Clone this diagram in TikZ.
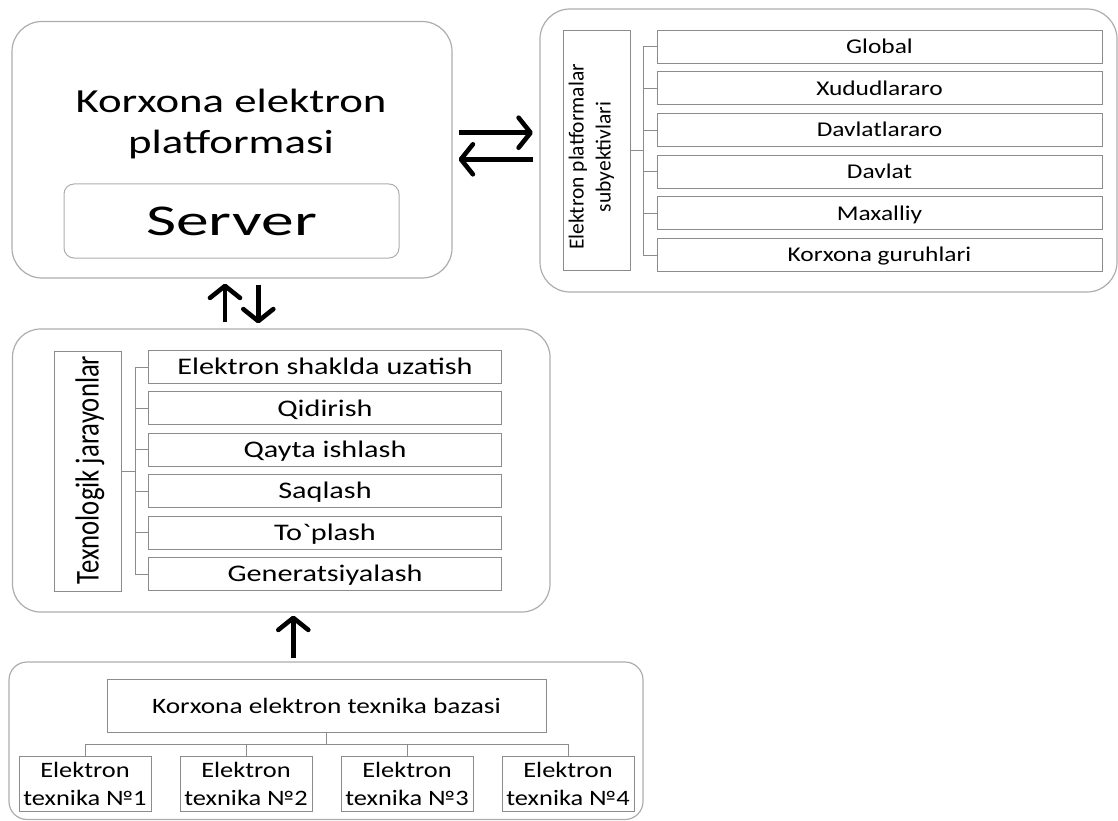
\documentclass[tikz,border=0pt]{standalone}
\usepackage{fontspec}
\setmainfont{Carlito}[Ligatures=TeXOff]
\usepackage{graphicx}
\usetikzlibrary{arrows.meta}
\newcommand{\wx}[2]{\scalebox{#1}[1]{#2}}
\tikzset{
  panel/.style={draw=black!32, line width=1.2pt, rounded corners=#1},
  cell/.style={draw=black!45, line width=1pt, inner sep=0pt},
  link/.style={draw=black!45, line width=1pt},
  flow/.style={line width=4.6pt, -{Straight Barb[round,length=12pt,width=30pt]}},
  itemr/.style={cell, minimum width=445pt, minimum height=33pt, text height=13.5pt, text depth=0pt, font=\fontsize{21}{25}\selectfont},
  itemm/.style={cell, minimum width=353.4pt, minimum height=33pt, text height=15.3pt, text depth=0pt, font=\fontsize{23.8}{28}\selectfont},
  tech/.style={cell, minimum width=132pt, minimum height=55pt, align=center, font=\fontsize{22}{28}\selectfont}
}
\begin{document}
\begin{tikzpicture}[x=1pt, y=-1pt]
\useasboundingbox (0,0) rectangle (1118,821);

\node[panel=30pt, minimum width=440pt, minimum height=256.5pt] (plat) at (232,149.75) {};
\node[align=center, font=\fontsize{33.7}{41}\selectfont] (plattxt) at (231,124) {\wx{1.33}{Korxona elektron}\\\wx{1.33}{platformasi}};
\node[cell, draw=black!32, rounded corners=10pt, minimum width=335pt, minimum height=74pt, font=\fontsize{44}{50}\selectfont] (server) at (231.5,221) {\wx{1.49}{Server}};

\node[panel=30pt, minimum width=577pt, minimum height=283pt] (subj) at (828.5,150.5) {};
\node[cell, minimum width=67pt, minimum height=239.5pt] (subjlbl) at (597,150.75) {};
\node[rotate=90, align=center, font=\fontsize{21.5}{27}\selectfont] (subjtxt) at (591.5,157) {Elektron platformalar\\subyektivlari};
\foreach \t [count=\i from 0] in {Global, Xududlararo, Davlatlararo, Davlat, Maxalliy, Korxona guruhlari}
  \node[itemr] (s\i) at (879.5,{46.7+41.67*\i}) {\wx{1.21}{\t}};
\coordinate (strunk) at (643,0);
\draw[link] (subjlbl.east) -- (subjlbl.east -| strunk) (s0.west -| strunk) -- (s5.west -| strunk);
\foreach \i in {0,...,5} \draw[link] (s\i.west -| strunk) -- (s\i.west);

\node[panel=28pt, minimum width=537.5pt, minimum height=283pt] (proc) at (281.25,470.5) {};
\node[cell, minimum width=67pt, minimum height=240pt] (proclbl) at (87.5,471) {};
\node[rotate=90, font=\fontsize{26.7}{32}\selectfont] (proctxt) at (90,470) {\scalebox{1}[1.25]{Texnologik jarayonlar}};
\foreach \t [count=\i from 0] in {Elektron shaklda uzatish, Qidirish, Qayta ishlash, Saqlash, To`plash, Generatsiyalash}
  \node[itemm] (p\i) at (325,{367+41.4*\i}) {\wx{1.27}{\t}};
\coordinate (ptrunk) at (135,0);
\draw[link] (proclbl.east) -- (proclbl.east -| ptrunk) (p0.west -| ptrunk) -- (p5.west -| ptrunk);
\foreach \i in {0,...,5} \draw[link] (p\i.west -| ptrunk) -- (p\i.west);

\node[panel=18pt, minimum width=634pt, minimum height=157.5pt] (base) at (326,740.75) {};
\node[cell, minimum width=439pt, minimum height=53pt, font=\fontsize{22}{26}\selectfont] (baza) at (326.5,705.5) {\wx{1.24}{Korxona elektron texnika bazasi}};
\foreach \x [count=\i] in {85,246,407,568}
  \node[tech] (t\i) at (\x,783.5) {\wx{1.2}{Elektron}\\\wx{1.2}{texnika №\i}};
\coordinate (bus) at (0,744);
\draw[link] (baza.south) -- (baza.south |- bus) (t1.north |- bus) -- (t4.north |- bus);
\foreach \i in {1,...,4} \draw[link] (t\i.north |- bus) -- (t\i.north);

\coordinate (upx) at (225,0);
\coordinate (dnx) at (258.3,0);
\coordinate (rt) at (0,132.7);
\coordinate (lt) at (0,159.3);
\coordinate (inx) at (293.3,0);
\draw[flow, shorten <=6pt, shorten >=5pt] (proc.north -| upx) -- (plat.south -| upx);
\draw[flow, shorten <=6pt, shorten >=5pt] (plat.south -| dnx) -- (proc.north -| dnx);
\draw[flow, shorten <=6pt, shorten >=6.5pt] (plat.east |- rt) -- (subj.west |- rt);
\draw[flow, shorten <=6.5pt, shorten >=6pt] (subj.west |- lt) -- (plat.east |- lt);
\draw[flow, shorten <=3pt, shorten >=3pt] (base.north -| inx) -- (proc.south -| inx);
\end{tikzpicture}
\end{document}
